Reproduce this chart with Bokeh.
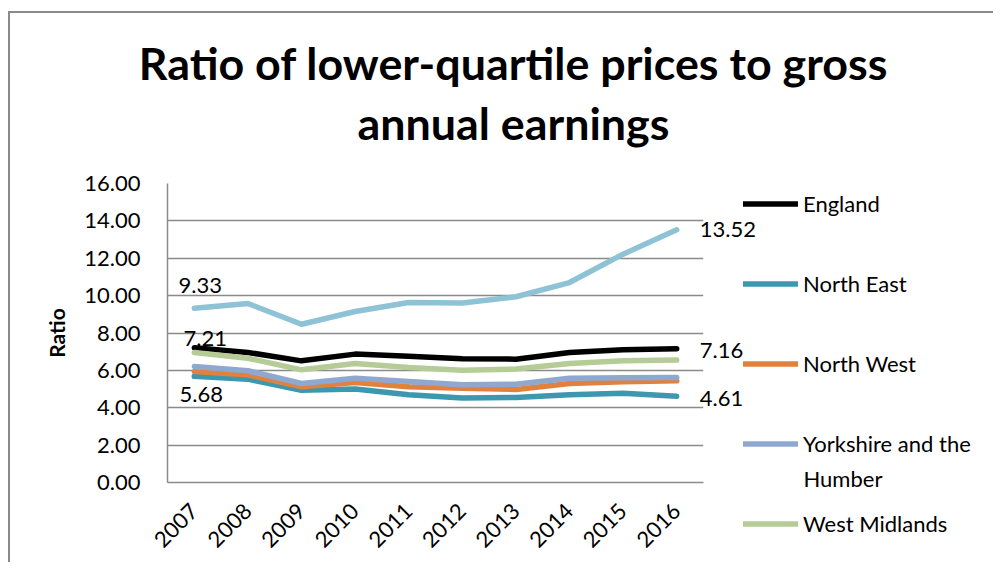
import math
from bokeh.plotting import figure
from bokeh.models import (FactorRange, Range1d, FixedTicker, PrintfTickFormatter,
                          Legend, LegendItem, Label)
from bokeh.embed import file_html
from bokeh.resources import INLINE

# ---------------- data ----------------
years = ["2007", "2008", "2009", "2010", "2011", "2012", "2013", "2014", "2015", "2016"]
england = [7.21, 6.96, 6.51, 6.87, 6.76, 6.62, 6.60, 6.96, 7.10, 7.16]
north_east = [5.68, 5.53, 4.94, 5.00, 4.69, 4.52, 4.55, 4.69, 4.78, 4.61]
north_west = [5.94, 5.76, 5.12, 5.35, 5.12, 5.05, 4.98, 5.30, 5.39, 5.44]
yorkshire = [6.21, 5.98, 5.30, 5.58, 5.40, 5.23, 5.26, 5.58, 5.60, 5.62]
west_midlands = [6.96, 6.65, 6.03, 6.37, 6.15, 6.01, 6.07, 6.37, 6.51, 6.55]
london = [9.33, 9.58, 8.47, 9.15, 9.63, 9.60, 9.94, 10.70, 12.22, 13.52]
y_ticks = [0, 2, 4, 6, 8, 10, 12, 14, 16]

title_lines = ["Ratio of lower-quartile prices to gross", "annual earnings"]

# ---------------- layout (page pixels) ----------------
CANVAS_X, CANVAS_Y = 10, 13
FL, FT, FW, FH = 167, 183, 536, 299   # frame in page px

def dx(px):
    return (px - FL) / (FW / len(years))

def dy(py):
    return (FT + FH - py) / (FH / y_ticks[-1])

FONT = "Lato"
GRID = "#8a8a8a"

p = figure(x_range=FactorRange(*years, range_padding=0),
           y_range=Range1d(y_ticks[0], y_ticks[-1]),
           frame_width=FW, frame_height=FH,
           output_backend="svg", toolbar_location=None,
           min_border_left=FL - CANVAS_X, min_border_top=FT - CANVAS_Y,
           min_border_right=0, min_border_bottom=80)
p.styles = {"border-top": "2px solid #8a8a8a", "border-left": "2px solid #8a8a8a",
            "margin-top": "11px", "margin-left": "8px",
            "max-width": "985px", "overflow": "hidden"}
p.outline_line_color = None
p.background_fill_color = "white"
p.border_fill_color = "white"

# grid
p.xgrid.grid_line_color = None
p.ygrid.grid_line_color = GRID
p.ygrid.grid_line_width = 1.5
p.ygrid.ticker = FixedTicker(ticks=y_ticks)

# y axis
p.yaxis.ticker = FixedTicker(ticks=y_ticks)
p.yaxis.formatter = PrintfTickFormatter(format="%.2f")
p.yaxis.axis_label = "Ratio"
p.yaxis.axis_label_text_font = FONT
p.yaxis.axis_label_text_font_style = "bold"
p.yaxis.axis_label_text_font_size = "21px"
p.yaxis.axis_label_text_color = "black"
p.yaxis.axis_label_standoff = 12
p.yaxis.major_label_text_font = FONT
p.yaxis.major_label_text_font_size = "22px"
p.yaxis.major_label_text_color = "black"
p.yaxis.major_label_standoff = 21
p.yaxis.major_tick_line_color = None
p.yaxis.minor_tick_line_color = None
p.yaxis.axis_line_color = GRID
p.yaxis.axis_line_width = 1.5

# x axis
p.xaxis.major_label_orientation = math.pi / 4
p.xaxis.major_label_text_font = FONT
p.xaxis.major_label_text_font_size = "22px"
p.xaxis.major_label_text_color = "black"
p.xaxis.major_label_standoff = 19
p.xaxis.major_tick_line_color = None
p.xaxis.minor_tick_line_color = None
p.xaxis.axis_line_color = GRID
p.xaxis.axis_line_width = 1.5

# lines
series = [
    ("England", england, "#000000"),
    ("North East", north_east, "#3d97ae"),
    ("North West", north_west, "#e0823d"),
    ("Yorkshire and the", yorkshire, "#8fa8d0"),
    ("West Midlands", west_midlands, "#b5cc96"),
    ("London", london, "#8ec3d6"),
]
renderers = {}
for name, vals, col in series:
    r = p.line(years, vals, line_color=col, line_width=5.5, line_cap="round",
               line_join="round")
    renderers[name] = r

# legend (London not visible in the cropped legend); location = bottom-left
# corner relative to the bottom-right corner of the frame
items = [LegendItem(label=name, renderers=[renderers[name]]) for name, _, _ in series[:5]]
legend = Legend(items=items, location=(743 - (FL + FW), (FT + FH) - 537),
                glyph_width=55, glyph_height=27, label_height=27, spacing=53,
                label_standoff=5, padding=0, margin=0,
                border_line_color=None, background_fill_alpha=0,
                label_text_font=FONT, label_text_font_size="22px",
                label_text_color="black")
p.add_layout(legend, "right")

# data labels (first and last values), drawn as unclipped labels
TXT = dict(text_font=FONT, text_font_size="22px", text_color="black",
           text_baseline="middle")
first_labels = [(london, 6, 23), (england, 11, 9), (north_east, 7, -18)]
for vals, xo, yo in first_labels:
    p.add_layout(Label(x=0.5, y=vals[0], text=f"{vals[0]:.2f}", x_offset=xo,
                       y_offset=yo, text_align="center", **TXT), "right")
last_labels = [(london, 23, 0), (england, 23, -2), (north_east, 23, -2)]
for vals, xo, yo in last_labels:
    p.add_layout(Label(x=len(years) - 0.5, y=vals[-1], text=f"{vals[-1]:.2f}",
                       x_offset=xo, y_offset=yo, text_align="left", **TXT), "right")

# wrapped second line of the Yorkshire legend entry
p.add_layout(Label(x=dx(803), y=dy(478), text="Humber", text_align="left", **TXT),
             "above")

# title
for line, py in zip(title_lines, (62, 122)):
    p.add_layout(Label(x=dx(513), y=dy(py), text=line, text_align="center",
                       text_baseline="middle", text_font=FONT, text_font_style="bold",
                       text_font_size="44.8px", text_color="black"), "above")

open("out.html", "w").write(file_html(p, INLINE))
